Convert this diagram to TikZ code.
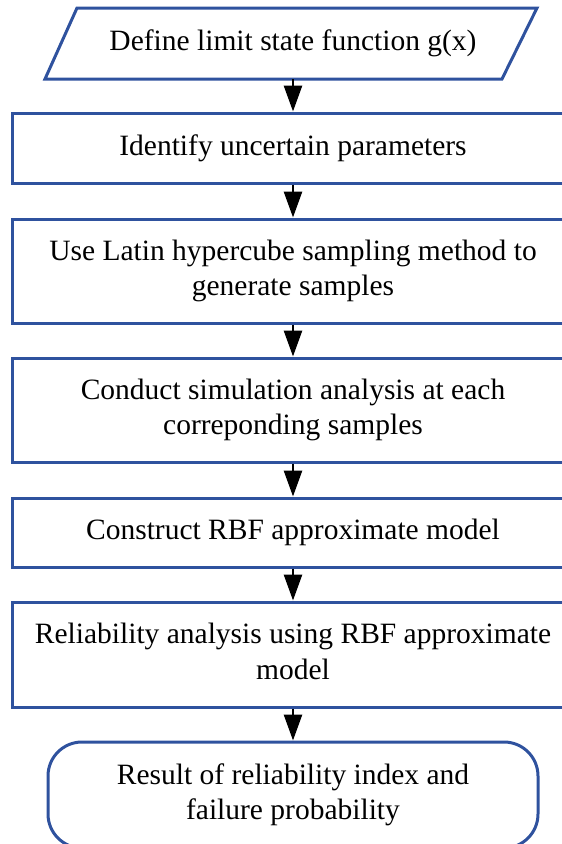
\documentclass[tikz,border=0pt]{standalone}
\usepackage{fontspec}
\setmainfont{Liberation Serif}
\usetikzlibrary{arrows.meta}
\definecolor{boxblue}{RGB}{47,82,158}
\newcommand{\boxtext}[1]{\raisebox{-2.3pt}{\begin{tabular}{@{}c@{}}#1\end{tabular}}}
\begin{document}
\begin{tikzpicture}[x=1pt,y=-1pt,
  every node/.style={font=\fontsize{29.5}{35.5}\selectfont, inner sep=0pt},
  stepbox/.style={draw=boxblue, line width=3pt, minimum width=562pt},
  conn/.style={line width=2.8pt, -{Triangle[length=26pt,width=18pt]}}]
\useasboundingbox (0,0) rectangle (562,844);
\begin{scope}
\clip (0,0) rectangle (562,844);
% parallelogram
\draw[boxblue, line width=3pt, line join=miter] (77,8) -- (537,8) -- (502,79) -- (45,79) -- cycle;
\node[minimum width=400pt, minimum height=71pt] (p1) at (293,43.5) {\boxtext{Define limit state function g(x)}};
\node[stepbox, minimum height=70pt] (b2) at (293,148) {\boxtext{Identify uncertain parameters}};
\node[stepbox, minimum height=104pt] (b3) at (293,271) {\boxtext{Use Latin hypercube sampling method to\\generate samples}};
\node[stepbox, minimum height=104pt] (b4) at (293,410) {\boxtext{Conduct simulation analysis at each\\correponding samples}};
\node[stepbox, minimum height=69pt] (b5) at (293,532.5) {\boxtext{Construct RBF approximate model}};
\node[stepbox, minimum height=105pt] (b6) at (293,654.5) {\boxtext{Reliability analysis using RBF approximate\\model}};
\node[draw=boxblue, line width=3pt, rounded corners=34pt, minimum width=490pt, minimum height=106pt] (b7) at (293,795) {\boxtext{Result of reliability index and\\failure probability}};
\draw[conn] (p1.south) -- (b2.north);
\draw[conn] (b2.south) -- (b3.north);
\draw[conn] (b3.south) -- (b4.north);
\draw[conn] (b4.south) -- (b5.north);
\draw[conn] (b5.south) -- (b6.north);
\draw[conn] (b6.south) -- (b7.north);
\end{scope}
\end{tikzpicture}
\end{document}
